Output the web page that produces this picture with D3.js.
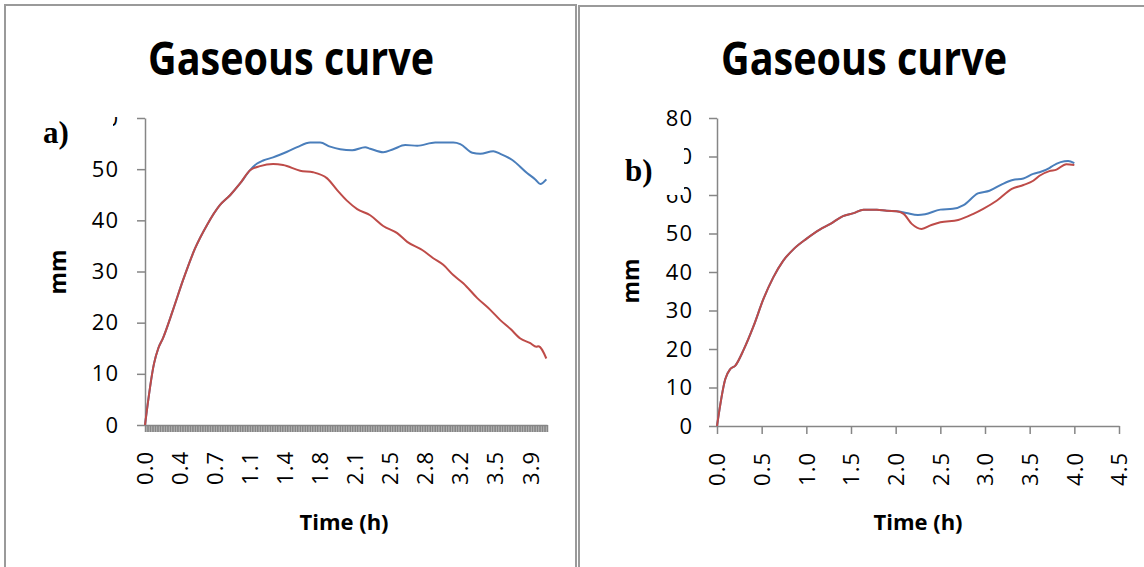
<!DOCTYPE html>
<html>
<head>
<meta charset="utf-8">
<script src="https://cdn.jsdelivr.net/npm/d3@7"></script>
<style>
  body { margin: 0; background: #fff; }
  svg { display: block; }
  .domain, .tick line { stroke: #868686; stroke-width: 1.5; }
</style>
</head>
<body>
<script>
// panel a) - time in hours, gas in mm
var timeA_blue = [0, 0.09, 0.133, 0.18, 0.28, 0.38, 0.5, 0.62, 0.75, 0.85, 0.95, 1.05, 1.12, 1.18, 1.28, 1.42, 1.52, 1.65, 1.75, 1.85, 1.95, 2.07, 2.2, 2.25, 2.38, 2.48, 2.6, 2.72, 2.9, 3.08, 3.15, 3.27, 3.35, 3.48, 3.55, 3.67, 3.82, 3.9, 3.95, 4.01]
var blueA = [0, 12.0, 15, 17, 22.5, 28.3, 34.5, 39.1, 43, 44.9, 47.2, 49.8, 51.1, 51.7, 52.3, 53.4, 54.3, 55.2, 55.2, 54.4, 53.9, 53.7, 54.3, 54.0, 53.3, 53.9, 54.7, 54.6, 55.2, 55.2, 54.9, 53.2, 53.0, 53.5, 53.0, 51.8, 49.2, 48.0, 47.1, 48.0]
var timeA_red = [0, 0.09, 0.133, 0.18, 0.28, 0.38, 0.5, 0.62, 0.75, 0.85, 0.95, 1.05, 1.15, 1.28, 1.38, 1.55, 1.68, 1.82, 1.92, 2.02, 2.12, 2.25, 2.38, 2.52, 2.62, 2.77, 2.88, 2.98, 3.08, 3.18, 3.32, 3.45, 3.55, 3.65, 3.75, 3.85, 3.91, 3.93, 4.01]
var redA = [0, 12.0, 15, 17, 22.5, 28.3, 34.5, 39.1, 43, 44.9, 47.2, 49.8, 50.6, 51.0, 50.8, 49.7, 49.4, 48.2, 45.9, 43.8, 42.2, 41.0, 38.9, 37.5, 35.8, 34.2, 32.6, 31.3, 29.3, 27.7, 24.8, 22.5, 20.5, 18.8, 16.9, 16.0, 15.3, 15.4, 13.0]
// category axis: one category per minute, a label every 21st
var minutesA = 242
var labelsA = ["0.0", "0.4", "0.7", "1.1", "1.4", "1.8", "2.1", "2.5", "2.8", "3.2", "3.5", "3.9"]

// panel b)
var timeB_blue = [0, 0.093, 0.149, 0.205, 0.30, 0.41, 0.52, 0.63, 0.74, 0.86, 1.0, 1.15, 1.27, 1.41, 1.53, 1.64, 1.79, 1.90, 2.01, 2.12, 2.25, 2.33, 2.50, 2.64, 2.76, 2.92, 3.05, 3.20, 3.31, 3.43, 3.54, 3.61, 3.72, 3.76, 3.93, 4.0]
var blueB = [0, 12.2, 14.8, 15.7, 19.9, 26, 33, 38.6, 42.9, 46, 48.6, 51, 52.5, 54.5, 55.3, 56.2, 56.2, 55.9, 55.8, 55.3, 54.8, 55.0, 56.2, 56.4, 57.4, 60.4, 61.1, 62.9, 63.9, 64.3, 65.5, 65.9, 67.0, 67.6, 68.8, 68.3]
var timeB_red = [0, 0.093, 0.149, 0.205, 0.30, 0.41, 0.52, 0.63, 0.74, 0.86, 1.0, 1.15, 1.27, 1.41, 1.53, 1.64, 1.79, 1.90, 2.01, 2.09, 2.18, 2.29, 2.40, 2.50, 2.70, 2.87, 2.98, 3.13, 3.30, 3.43, 3.54, 3.61, 3.72, 3.80, 3.91, 4.0]
var redB = [0, 12.2, 14.8, 15.7, 19.9, 26, 33, 38.6, 42.9, 46, 48.6, 51, 52.5, 54.5, 55.3, 56.2, 56.2, 55.9, 55.8, 55.1, 52.5, 51.2, 52.2, 52.9, 53.5, 55.1, 56.4, 58.5, 61.6, 62.6, 63.7, 65.0, 66.2, 66.6, 68.0, 67.8]
var ticksB = [0, 0.5, 1, 1.5, 2, 2.5, 3, 3.5, 4, 4.5]

var blue = "#4a7ebb", red = "#be4b48"

var svg = d3.select("body").append("svg")
    .attr("width", 1144)
    .attr("height", 567)

// page frames round the two panels
svg.append("path")
    .attr("d", "M5,567V5H576V567")
    .attr("fill", "none").attr("stroke", "#9a9a9a").attr("stroke-width", 2)
svg.append("path")
    .attr("d", "M579,567V6H1144")
    .attr("fill", "none").attr("stroke", "#9a9a9a").attr("stroke-width", 2)

function zip(t, v) {
  return t.map(function(d, i) { return {t: d, v: v[i]}; })
}

function tickFont(sel) {
  sel.selectAll(".tick text")
      .style("font-family", "'Open Sans', sans-serif")
      .style("font-size", "22px")
      .style("letter-spacing", "1px")
      .style("fill", "#000")
}

function drawPanel(p) {
  var g = svg.append("g")

  g.append("text")
      .attr("x", p.titleX).attr("y", 75)
      .attr("textLength", 286).attr("lengthAdjust", "spacingAndGlyphs")
      .style("font-family", "'Open Sans', sans-serif")
      .style("font-weight", "bold").style("font-size", "46px")
      .text("Gaseous curve")

  // y axis
  var yAxis = g.append("g")
      .attr("transform", "translate(" + p.x.range()[0] + ",0)")
      .call(d3.axisLeft(p.y).tickValues(p.yTicks).tickSize(8).tickSizeOuter(0).tickPadding(p.yPad))
  tickFont(yAxis)

  // x axis
  var xAxis = g.append("g")
      .attr("transform", "translate(0," + p.y.range()[0] + ")")
      .call(p.xAxis)
  tickFont(xAxis)
  xAxis.selectAll(".tick text")
      .attr("transform", "rotate(-90)")
      .attr("x", -26).attr("y", 0).attr("dy", "0.35em")
      .style("text-anchor", "end")

  var line = d3.line()
      .curve(d3.curveMonotoneX)
      .x(function(d) { return p.x(d.t); })
      .y(function(d) { return p.y(d.v); })

  p.series.forEach(function(s) {
    g.append("path")
        .datum(s.data)
        .attr("fill", "none")
        .attr("stroke", s.color)
        .attr("stroke-width", 2)
        .attr("d", line)
  })

  g.append("text")
      .attr("transform", "translate(" + p.mmX + "," + p.mmY + ") rotate(-90)")
      .style("text-anchor", "middle")
      .style("font-family", "'Open Sans', sans-serif")
      .style("font-weight", "bold").style("font-size", "23px")
      .text("mm")

  g.append("text")
      .attr("x", p.timeX).attr("y", 530)
      .style("text-anchor", "middle")
      .style("font-family", "'Open Sans', sans-serif")
      .style("font-weight", "bold").style("font-size", "22px")
      .text("Time (h)")

  // panel letter sits in a white box over the top tick labels
  p.masks.forEach(function(m) {
    g.append("rect").attr("x", m[0]).attr("y", m[1]).attr("width", m[2]).attr("height", m[3]).attr("fill", "#fff")
  })
  g.append("text")
      .attr("x", p.letterX).attr("y", p.letterY)
      .style("font-family", "'Liberation Serif', serif")
      .style("font-weight", "bold").style("font-size", "31px")
      .text(p.letter)
}

// panel a)
var xA = d3.scaleLinear().domain([0, (minutesA - 1) / 60]).range([145, 547])
var yA = d3.scaleLinear().domain([0, 60]).range([425, 118])
var catTicks = d3.range(minutesA).map(function(m) { return m / 60; })
drawPanel({
  x: xA, y: yA, yTicks: [0, 10, 20, 30, 40, 50, 60], yPad: 18,
  xAxis: d3.axisBottom(xA).tickValues(catTicks).tickSize(7).tickSizeOuter(0).tickPadding(0)
    .tickFormat(function(d, i) { return i % 21 == 0 ? labelsA[i / 21] : ""; }),
  series: [{data: zip(timeA_blue, blueA), color: blue}, {data: zip(timeA_red, redA), color: red}],
  titleX: 148, mmX: 66, mmY: 272, timeX: 344,
  masks: [[30, 100, 83, 60], [80, 95, 60, 22]],
  letter: "a)", letterX: 43, letterY: 143
})

// panel b)
var xB = d3.scaleLinear().domain([0, 4.5]).range([717, 1119])
var yB = d3.scaleLinear().domain([0, 80]).range([426, 118])
drawPanel({
  x: xB, y: yB, yTicks: [0, 10, 20, 30, 40, 50, 60, 70, 80], yPad: 16,
  xAxis: d3.axisBottom(xB).tickValues(ticksB).tickSize(8).tickSizeOuter(0).tickPadding(0)
    .tickFormat(d3.format(".1f")),
  series: [{data: zip(timeB_blue, blueB), color: blue}, {data: zip(timeB_red, redB), color: red}],
  titleX: 721, mmX: 639, mmY: 281, timeX: 918,
  masks: [[612, 140, 72, 55]],
  letter: "b)", letterX: 625, letterY: 181
})
</script>
</body>
</html>
